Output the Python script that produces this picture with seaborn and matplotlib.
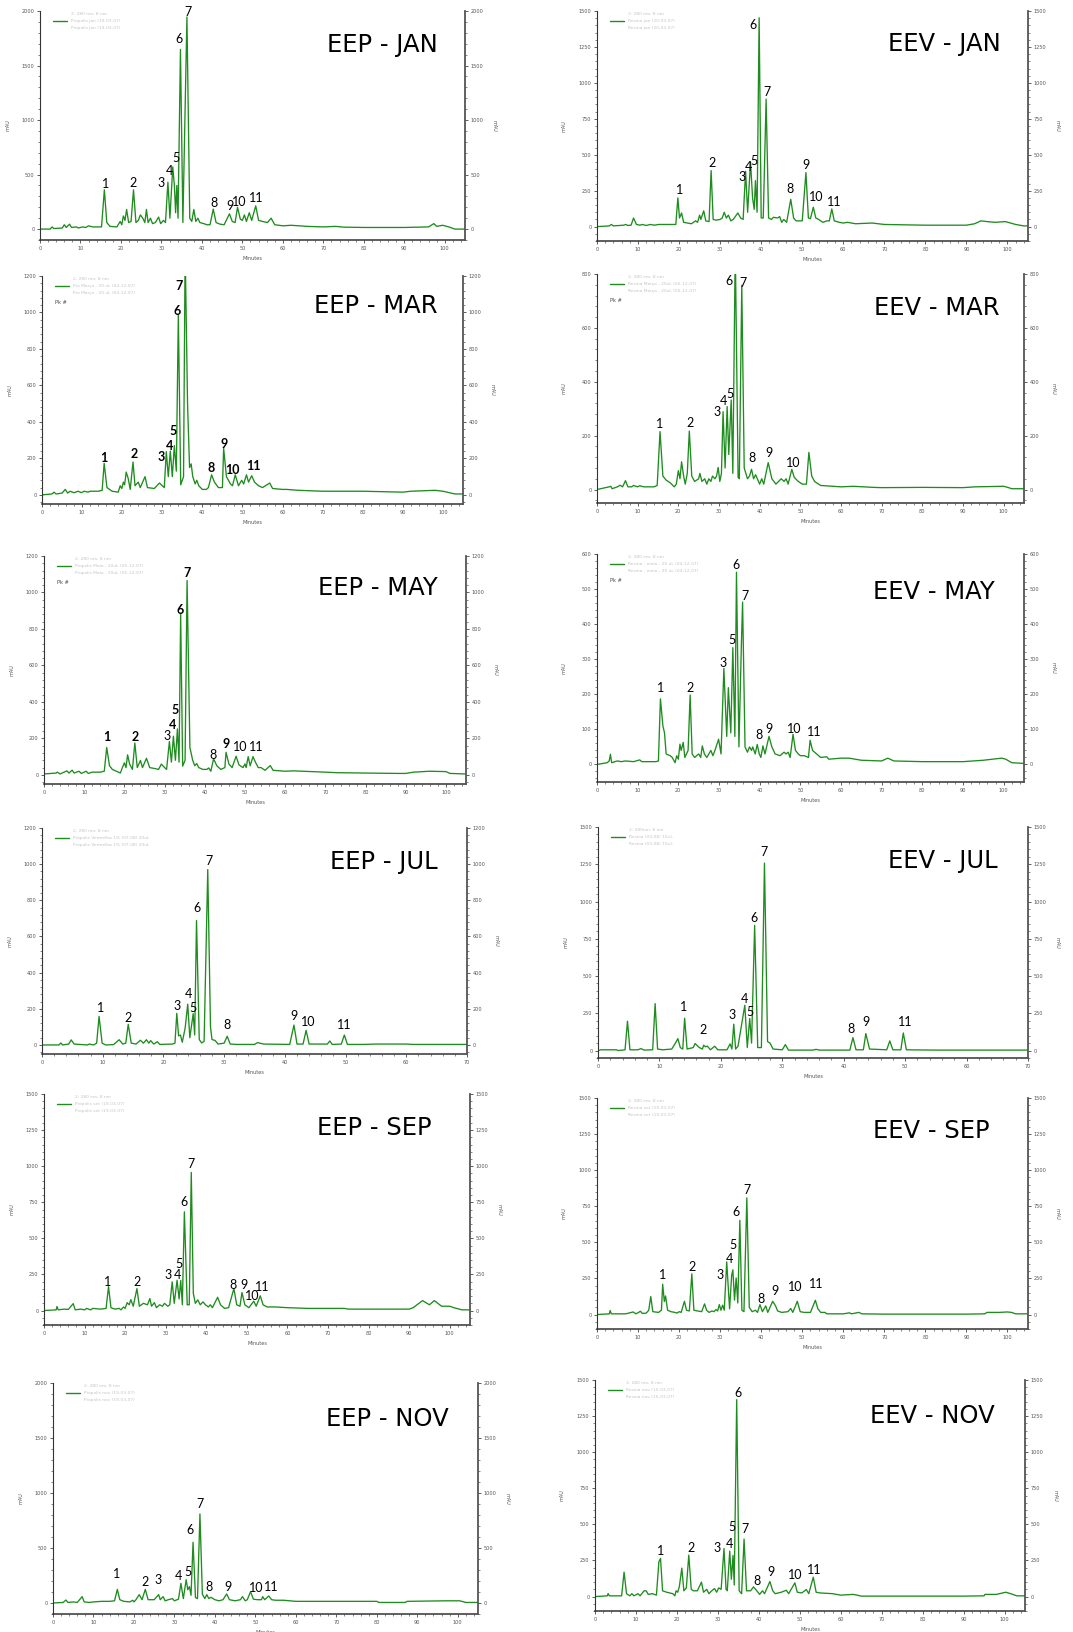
import matplotlib
matplotlib.use("Agg")
import matplotlib.pyplot as plt
import seaborn as sns
import pandas as pd
from matplotlib.lines import Line2D
from matplotlib.ticker import MultipleLocator, AutoMinorLocator

# ---------------- DATA ----------------
trace_eep_jan = [(0,0),(2.5,0),(3,20),(3.4,5),(5.5,10),(6,40),(6.5,15),(7.3,45),(7.8,15),(9,20),(9.5,10),(10.5,20),(11.3,15),(12,30),(13,20),(15.2,20),(15.9,360),(16.5,60),(17.3,25),(19,20),(19.8,70),(20.2,40),(20.6,120),(21,80),(21.4,180),(21.9,60),(22.5,70),(23.1,360),(23.7,60),(24.3,80),(24.8,130),(25.4,100),(25.9,60),(26.3,180),(26.7,60),(27.3,100),(27.8,50),(28.5,60),(29.3,110),(29.8,50),(30.5,80),(31.0,60),(31.6,430),(32.1,100),(32.8,570),(33.2,400),(33.5,150),(33.8,400),(34.1,100),(34.7,1647),(35.3,60),(36.3,1945),(37.0,100),(37.5,70),(38.0,180),(38.5,70),(39.0,100),(39.5,60),(40.5,50),(41.2,40),(42.0,40),(42.8,183),(43.5,60),(44.5,45),(45.5,40),(46.8,140),(47.5,70),(48.2,60),(48.8,200),(49.5,90),(50,80),(50.5,130),(51,70),(51.7,150),(52.3,80),(53.3,213),(54,80),(55,70),(56.2,60),(57.1,100),(58,40),(60,30),(62,35),(66,25),(70,20),(73,25),(75,18),(80,15),(90,15),(96,20),(97.3,50),(98,25),(99.5,35),(101,20),(102.5,0),(105,0)]
trace_eev_jan = [(0,0),(3,5),(3.5,15),(4,5),(6.5,10),(7,15),(7.5,8),(8.3,10),(8.9,60),(9.6,15),(10.5,10),(11,15),(12,8),(13,15),(14,10),(15,15),(17,15),(19.2,15),(19.7,200),(20.1,60),(20.6,95),(21.1,30),(23,20),(24,40),(24.5,30),(25,80),(25.3,50),(26,110),(26.5,40),(27.3,35),(27.8,390),(28.3,50),(29,45),(30,50),(30.5,60),(31,100),(31.5,60),(32,80),(32.6,40),(33.2,50),(34.3,95),(35,60),(35.6,50),(36.2,385),(36.7,100),(37.4,450),(37.9,200),(38.3,120),(38.6,320),(39.0,100),(39.5,1453),(40.0,60),(40.5,60),(41.2,887),(41.8,60),(42.5,50),(43,65),(44,60),(44.5,70),(45,30),(45.5,50),(46.2,30),(47.2,190),(47.9,60),(48.5,40),(50,40),(50.9,376),(51.5,60),(52.0,55),(52.7,135),(53.3,60),(54,50),(55,30),(56,40),(56.6,40),(57.2,123),(57.8,40),(59,30),(60,25),(61,30),(63,20),(67,25),(70,15),(80,10),(90,10),(92,20),(93.5,40),(95,35),(97,30),(99.5,35),(102,15),(104,5),(105,5)]
trace_eep_mar = [(0,0),(2.5,5),(3,15),(3.5,5),(5,10),(5.8,30),(6.4,10),(7,20),(8,12),(9,20),(9.8,12),(10.5,20),(11.5,15),(12,20),(14,20),(15,25),(15.5,173),(16.2,40),(17.5,20),(19,15),(19.5,50),(19.9,35),(20.3,70),(20.6,55),(21,125),(21.5,90),(22,30),(22.7,180),(23.2,50),(24,70),(24.5,40),(25.7,100),(26.3,40),(28,35),(29.3,65),(30,50),(30.5,40),(31.0,237),(31.5,100),(32.0,240),(32.5,100),(33.0,270),(33.5,130),(34.0,985),(34.6,55),(35.3,100),(35.7,1350),(36.3,500),(36.8,150),(37.2,170),(37.6,100),(38.2,60),(38.6,80),(39.1,50),(40,30),(41,30),(41.5,40),(42.3,110),(43,70),(44,40),(45,40),(45.3,255),(46,100),(47,60),(47.5,50),(48.2,110),(49,50),(49.8,80),(50.3,60),(51,110),(51.5,70),(52.3,105),(53,70),(54,50),(55,40),(56.8,65),(57.5,35),(60,30),(61,30),(64,25),(70,20),(80,20),(90,15),(92,20),(98,25),(100,20),(103,5),(105,5)]
trace_eev_mar = [(0,0),(3,10),(3.4,12),(3.7,3),(5,10),(5.7,16),(6.3,10),(7,33),(7.6,10),(8.5,10),(9,15),(10,10),(10.5,14),(11.5,10),(14,10),(14.8,15),(15.5,215),(16.2,50),(17,35),(18,25),(19,10),(19.5,20),(20,70),(20.4,40),(20.8,103),(21.3,50),(21.7,20),(22.2,60),(22.7,217),(23.3,50),(24,30),(25,40),(25.3,60),(25.8,30),(26.5,40),(27,20),(27.5,40),(28,30),(28.4,50),(29,40),(29.4,50),(29.8,82),(30.2,30),(30.6,60),(31.0,289),(31.5,80),(32.0,308),(32.4,130),(33.0,332),(33.4,60),(34.0,900),(34.7,45),(35.0,40),(35.6,758),(36.2,80),(37,40),(37.5,50),(38,75),(38.5,40),(39,55),(40,20),(40.5,40),(41,20),(42.1,100),(43,40),(44,20),(45.3,40),(46,30),(46.5,40),(47,20),(47.9,75),(48.5,45),(49.5,30),(50.5,20),(51.5,20),(52.1,138),(52.8,50),(53.5,30),(55,15),(60,10),(63,12),(68,8),(70,7),(80,8),(90,7),(93,10),(100,12),(101,8),(102,3),(105,3)]
trace_eep_may = [(0,5),(3,10),(3.3,15),(4,5),(5.7,22),(6.2,10),(7,26),(7.5,10),(8.7,20),(9.3,8),(10.5,20),(11,8),(12,15),(14,15),(15,20),(15.6,150),(16.3,50),(17,30),(18,20),(19,10),(19.5,40),(20,66),(20.4,40),(20.8,110),(21.3,60),(22,30),(22.6,175),(23.2,40),(24,79),(24.5,40),(25.5,91),(26.3,40),(27.5,35),(28.5,30),(29.2,59),(30,40),(30.5,30),(31.2,183),(31.7,70),(32.2,212),(32.7,80),(33.2,252),(33.6,70),(34.0,883),(34.5,48),(35.1,80),(35.6,1066),(36.3,150),(37,80),(37.5,50),(38,62),(38.5,40),(39.5,30),(40.5,30),(41,38),(41.5,20),(42.2,88),(43,50),(44,30),(45,40),(45.3,124),(46,60),(46.8,40),(47.8,102),(48.5,55),(49.5,40),(50,60),(50.3,40),(50.8,100),(51.3,50),(52,100),(52.6,70),(53.3,40),(54,40),(55,25),(56.3,51),(57,25),(60,20),(62,22),(70,15),(73,12),(80,10),(88,8),(90,8),(92,15),(96,20),(100,18),(101,8),(105,5)]
trace_eev_may = [(0,0),(2.5,5),(3,10),(3.3,29),(3.6,5),(5,10),(6,8),(7,10),(9,8),(10.5,13),(11,8),(13,8),(14.5,8),(15.1,10),(15.6,187),(16.2,110),(16.6,90),(17,30),(18,25),(18.5,20),(19.2,5),(19.6,25),(20,15),(20.4,58),(20.7,40),(21.2,63),(21.6,20),(22,30),(22.4,40),(22.9,198),(23.4,30),(24,20),(25,30),(25.5,20),(25.9,53),(26.4,30),(27,20),(27.5,30),(28,40),(28.5,25),(29,40),(29.9,72),(30.5,30),(31.2,274),(31.9,80),(32.3,219),(32.9,90),(33.4,333),(33.9,80),(34.3,548),(34.9,50),(35.5,340),(35.8,463),(36.4,50),(37,35),(37.5,50),(38,40),(38.3,50),(38.9,30),(39.4,57),(39.9,30),(40.3,20),(40.8,53),(41.3,30),(42.3,80),(43,50),(43.8,30),(45,25),(46,35),(46.5,30),(47,35),(47.5,20),(48.2,86),(48.8,40),(49.5,30),(50,25),(51,25),(52,20),(52.4,69),(53,40),(54,30),(55,20),(56.5,22),(57,15),(60,18),(62,18),(65,12),(70,10),(71.5,18),(73,10),(80,8),(90,8),(95,12),(99.5,18),(100.5,15),(102,5),(105,3)]
trace_eep_jul = [(0,0),(2.8,0),(3.1,11),(3.4,0),(4.4,5),(4.8,28),(5.3,5),(7.5,0),(7.8,5),(8.5,0),(9.0,10),(9.4,158),(9.9,10),(10.5,0),(11.8,2),(12.7,29),(13.3,5),(13.8,10),(14.2,114),(14.7,10),(15.5,5),(16.2,26),(16.7,10),(17.2,29),(17.6,10),(17.9,24),(18.4,5),(19.0,18),(19.4,3),(21.5,5),(21.9,10),(22.2,175),(22.5,50),(22.8,55),(23.1,15),(23.5,80),(23.6,100),(24.0,226),(24.35,40),(24.9,173),(25.15,55),(25.45,688),(25.9,30),(26.3,11),(26.7,20),(27.3,970),(27.75,100),(28.0,30),(28.5,25),(29.0,5),(30.0,10),(30.5,48),(31.0,5),(32,3),(35.0,3),(35.5,13),(36.5,5),(40.8,3),(41.5,110),(42.0,5),(43.0,5),(43.5,81),(44.0,5),(47.0,5),(47.4,22),(47.8,3),(49.3,5),(49.8,55),(50.3,3),(53,3),(55,5),(60,5),(61,3),(70,3)]
trace_eev_jul = [(0,0),(0.5,5),(3,5),(3.3,0),(4.4,5),(4.8,197),(5.2,5),(6.5,5),(7,13),(7.5,3),(8.9,5),(9.3,315),(9.7,10),(10.5,5),(12,10),(12.6,50),(13,80),(13.4,20),(13.8,10),(14.1,217),(14.5,10),(15.5,20),(15.8,47),(16.5,20),(17,10),(17.2,36),(17.5,25),(17.8,30),(18.3,5),(19,29),(19.5,5),(21,5),(21.5,45),(21.8,10),(22.1,177),(22.4,10),(22.8,30),(23.4,180),(23.9,304),(24.3,20),(24.7,215),(25.0,50),(25.5,840),(26.0,20),(26.6,20),(27.1,1258),(27.6,60),(28,50),(28.5,10),(30,5),(30.5,40),(31,3),(35,3),(35.5,8),(36,3),(41,3),(41.5,87),(42,5),(43.2,5),(43.6,114),(44.2,10),(47,5),(47.5,65),(48,5),(49.3,5),(49.7,118),(50.2,5),(55,3),(70,3)]
trace_eep_sep = [(0,0),(3,5),(3.2,28),(3.5,5),(5,10),(6,8),(7.2,48),(7.7,5),(9,10),(10,5),(10.5,15),(11.5,5),(12,15),(14,10),(15.3,15),(15.9,166),(16.5,20),(17.5,10),(18.5,15),(19,5),(19.6,25),(20,15),(20.5,55),(21,40),(21.4,76),(22,30),(22.9,152),(23.5,30),(24.5,50),(25.5,40),(26.1,83),(26.5,30),(27.2,55),(27.7,20),(28.5,40),(29.2,30),(29.7,50),(30.5,30),(31.0,40),(31.6,199),(32.1,50),(32.8,210),(33.3,80),(33.7,208),(34.1,40),(34.6,684),(35.3,40),(35.8,40),(36.3,957),(36.8,120),(37.3,50),(37.9,74),(38.5,40),(39.2,60),(39.8,40),(40.5,25),(41,40),(41.5,20),(42.8,92),(43.5,40),(44.5,15),(45.5,20),(46.8,152),(47.5,40),(48.3,30),(48.8,125),(49.5,40),(50.5,20),(51.7,65),(52.3,30),(53.3,102),(54,40),(55,25),(57,25),(60,20),(65,15),(70,15),(74,15),(75,10),(80,10),(90,10),(91,20),(93.3,69),(95,40),(96.2,69),(98,30),(100,30),(101,20),(103,5),(105,5)]
trace_eev_sep = [(0,0),(3,5),(3.2,28),(3.5,5),(5,5),(7,5),(8.8,18),(9.5,5),(10.6,23),(11,8),(12,10),(12.6,30),(13.1,125),(13.6,20),(15,15),(15.7,30),(16.0,210),(16.4,90),(16.7,129),(17.2,30),(18,20),(19,15),(19.5,10),(20,20),(20.5,15),(21.3,92),(21.8,30),(22.5,25),(23.1,282),(23.6,30),(24.5,25),(25.5,20),(26.2,74),(26.7,30),(27.3,15),(28,25),(28.5,20),(29,35),(29.4,25),(29.8,69),(30.2,30),(30.6,65),(31,30),(31.6,365),(32.3,40),(32.8,270),(33.1,310),(33.5,100),(33.9,254),(34.3,80),(34.8,653),(35.3,30),(35.8,20),(36.5,808),(37.1,50),(37.8,20),(38.6,30),(39.1,15),(39.7,69),(40.3,20),(41.1,60),(41.6,15),(42.8,92),(43.5,60),(44,25),(45,15),(46.5,20),(47.2,42),(47.7,15),(48.8,92),(49.5,20),(50.5,15),(52,15),(53.2,99),(53.8,40),(54.5,15),(55.5,15),(56,5),(60,5),(61.5,12),(62,5),(63.8,15),(64.5,5),(70,3),(80,3),(90,3),(94.5,5),(95,15),(98,15),(100,18),(101,15),(102,5),(105,5)]
trace_eep_nov = [(0,0),(2.5,5),(3.2,27),(3.7,5),(5,10),(6,5),(7.2,58),(7.7,10),(9,5),(10,10),(12,15),(14,15),(15.2,20),(15.9,124),(16.5,30),(17.5,15),(19,10),(19.7,25),(20,10),(20.5,30),(21.3,76),(22,30),(22.8,124),(23.5,30),(25,30),(26.1,76),(26.5,30),(27.2,58),(27.7,20),(28.5,30),(29.5,40),(30,20),(31,35),(31.6,179),(32.2,40),(32.9,212),(33.3,120),(33.7,149),(34.1,70),(34.6,552),(35.2,50),(35.7,40),(36.3,810),(36.9,80),(37.5,40),(38,76),(38.5,40),(39,52),(40,30),(41,20),(42,30),(42.9,82),(43.6,30),(45,20),(46.3,30),(46.8,58),(47.5,20),(48,30),(48.8,103),(49.5,35),(50.5,30),(51.5,30),(51.8,58),(52.3,30),(53.3,64),(54,30),(55,25),(57,25),(60,15),(65,15),(70,15),(80,15),(80.5,5),(87,5),(87.5,15),(97,20),(100.5,20),(102,5),(105,5)]
trace_eev_nov = [(0,0),(3,5),(3.2,21),(3.5,5),(6.5,5),(7.1,169),(7.7,20),(8.5,5),(9,20),(9.5,5),(10.5,20),(11,5),(12,40),(12.5,40),(13,15),(14,20),(15,10),(15.6,241),(16,264),(16.5,40),(17.5,30),(19,20),(19.5,5),(19.8,40),(20.2,30),(20.6,70),(21.2,197),(21.7,40),(22.3,60),(22.9,287),(23.5,50),(24,40),(25,40),(26,100),(26.5,30),(27.3,50),(27.8,20),(28.5,40),(29.2,55),(29.7,30),(30.2,60),(30.8,50),(31.5,333),(32,50),(32.3,40),(32.9,315),(33.3,120),(33.7,285),(34.0,80),(34.6,1364),(35.2,40),(35.8,20),(36.4,398),(37,40),(38,40),(38.7,67),(39.5,40),(40.2,15),(40.9,40),(41.4,20),(42.7,104),(43.4,40),(44,20),(45.5,30),(46.7,44),(47.3,20),(48.8,95),(49.4,30),(50.5,25),(51.6,49),(52.2,20),(53.3,134),(54,30),(55,25),(58,20),(60,10),(63,15),(64,10),(65,3),(70,3),(80,3),(90,3),(95,5),(95.2,15),(98,15),(100.3,30),(101.5,20),(103,5),(105,5)]

# peak labels: (number, minutes, mAU at label baseline)
peaks_eep_jan = [(1,16.1,375),(2,23.1,390),(3,29.8,390),(4,32.1,497),(5,33.7,619),(6,34.4,1710),(7,36.5,1951),(8,42.9,207),(9,46.9,171),(10,49.1,216),(11,53.5,247)]
peaks_eev_jan = [(1,20.0,228),(2,28.0,413),(3,35.4,320),(4,36.8,390),(5,38.3,430),(6,38.0,1377),(7,41.5,912),(8,47.0,232),(9,51.0,402),(10,53.4,176),(11,57.8,142)]
peaks_eep_mar = [(1,15.3,182),(2,22.9,204),(3,29.7,186),(4,31.8,246),(5,32.8,328),(6,33.8,985),(7,34.2,1122),(8,42.2,128),(9,45.5,259),(10,47.6,115),(11,52.8,137)]
peaks_eev_mar = [(1,15.4,227),(2,22.9,231),(3,29.6,273),(4,31.1,314),(5,32.7,339),(6,32.4,758),(7,35.8,753),(8,38.2,103),(9,42.4,120),(10,48.2,84)]
peaks_eep_may = [(1,15.7,185),(2,22.8,185),(3,30.6,192),(4,32.0,252),(5,32.7,335),(6,33.9,883),(7,35.7,1085),(8,42.0,88),(9,45.4,146),(10,48.7,130),(11,52.7,130)]
peaks_eev_may = [(1,15.6,206),(2,22.8,208),(3,30.9,279),(5,33.1,344),(6,34.3,558),(7,36.3,469),(8,39.8,74),(9,42.4,91),(10,48.6,91),(11,53.3,82)]
peaks_eep_jul = [(1,9.6,180),(2,14.2,129),(3,22.2,193),(4,24.1,258),(5,24.8,184),(6,25.6,736),(7,27.5,994),(8,30.4,86),(9,41.5,136),(10,43.8,105),(11,49.8,88)]
peaks_eev_jul = [(1,14.0,268),(2,17.1,114),(3,21.8,215),(4,23.9,320),(5,24.8,232),(6,25.4,863),(7,27.1,1305),(8,41.2,121),(9,43.6,163),(11,50.0,163)]
peaks_eep_sep = [(1,15.7,171),(2,23.0,171),(3,30.7,222),(4,32.8,217),(5,33.2,298),(6,34.4,726),(7,36.3,984),(8,46.5,148),(9,49.3,148),(10,51.3,76),(11,53.8,136)]
peaks_eev_sep = [(1,16.1,249),(2,23.2,300),(3,29.9,249),(4,32.2,360),(5,33.1,452),(6,33.9,683),(7,36.5,838),(8,40.0,83),(9,43.4,134),(10,48.4,162),(11,53.3,187)]
peaks_eep_nov = [(1,15.7,228),(2,22.8,158),(3,26.0,173),(4,31.1,212),(5,33.4,243),(6,33.8,628),(7,36.2,862),(8,38.6,106),(9,43.2,106),(10,50.1,97),(11,53.8,106)]
peaks_eev_nov = [(1,16.1,287),(2,23.4,310),(3,29.9,310),(4,32.8,333),(5,33.5,454),(6,35.0,1382),(7,36.6,437),(8,39.6,83),(9,43.0,141),(10,48.8,120),(11,53.5,155)]

titles = ["EEP - JAN", "EEV - JAN", "EEP - MAR", "EEV - MAR", "EEP - MAY", "EEV - MAY",
          "EEP - JUL", "EEV - JUL", "EEP - SEP", "EEV - SEP", "EEP - NOV", "EEV - NOV"]
channel_labels = ["2: 280 nm, 8 nm"] * 7 + ["2: 280nm, 8 nm"] + ["2: 280 nm, 8 nm"] * 4
sample_names = ["Própolis jan (19-03-07)", "Resina jan (20-03-07)",
                "Pro Março - 20 uL (04-12-07)", "Resina Março - 20uL (05-12-07)",
                "Propolis Maio - 20uL (05-12-07)", "Resina - maio - 20 uL (04-12-07)",
                "Própolis Vermelha 1% (07-08) 20uL", "Resina (03-08) 15uL",
                "Própolis set (19-03-07)", "Resina set (19-03-07)",
                "Própolis nov (19-03-07)", "Resina nov (15-03-07)"]
y_max = [2000, 1500, 1200, 800, 1200, 600, 1200, 1500, 1500, 1500, 2000, 1500]
y_min = [-100, -100, -50, -50, -50, -50, -50, -50, -100, -100, -100, -100]
y_step = [500, 250, 200, 200, 200, 100, 200, 250, 250, 250, 500, 250]
x_max = [105, 105, 105, 105, 105, 105, 70, 70, 105, 105, 105, 105]
traces = [trace_eep_jan, trace_eev_jan, trace_eep_mar, trace_eev_mar, trace_eep_may, trace_eev_may,
          trace_eep_jul, trace_eev_jul, trace_eep_sep, trace_eev_sep, trace_eep_nov, trace_eev_nov]
peaks = [peaks_eep_jan, peaks_eev_jan, peaks_eep_mar, peaks_eev_mar, peaks_eep_may, peaks_eev_may,
         peaks_eep_jul, peaks_eev_jul, peaks_eep_sep, peaks_eev_sep, peaks_eep_nov, peaks_eev_nov]
bold_peaks = [set(), set(), set(range(1, 12)), set(), {1, 2, 4, 5, 6, 7, 9}, set(),
              set(), set(), set(), set(), set(), set()]
show_pk = [False, False, True, True, True, True, False, False, False, False, False, False]

# ---------------- LAYOUT (pixels in the 1073x1632 canvas) ----------------
W, H = 1073, 1632
boxes = [(40, 11, 465, 240), (597, 11, 1028, 241),
         (42, 276, 463, 504), (597, 274, 1024, 503),
         (44, 556, 466, 784), (597, 554, 1024, 782),
         (42, 828, 467, 1054), (598, 827, 1028, 1058),
         (44, 1094, 470, 1325), (597, 1098, 1028, 1329),
         (53, 1383, 478, 1614), (595, 1380, 1025, 1611)]
title_pos = [(327, 52), (888, 51), (314, 313), (874, 315), (318, 595), (873, 599),
             (330, 869), (888, 868), (317, 1135), (873, 1138), (326, 1426), (870, 1423)]

GREEN = "#1e8c1e"
sns.set_style("ticks")
plt.rcParams["font.family"] = ["DejaVu Sans"]

fig = plt.figure(figsize=(W / 100, H / 100), dpi=100)
fig.patch.set_facecolor("white")


def fx(x):
    return x / W


def fy(y):
    return 1 - y / H


for i in range(12):
    l, t, r, b = boxes[i]
    ax = fig.add_axes([fx(l), fy(b), (r - l) / W, (b - t) / H])
    ax.set_facecolor("white")
    df = pd.DataFrame(traces[i], columns=["Minutes", "mAU"])
    sns.lineplot(data=df, x="Minutes", y="mAU", ax=ax, color=GREEN, lw=0.95,
                 estimator=None, sort=False)
    ax.set_xlim(0, x_max[i])
    ax.set_ylim(y_min[i], y_max[i])
    ax.xaxis.set_major_locator(MultipleLocator(10))
    ax.xaxis.set_minor_locator(AutoMinorLocator(5))
    ax.yaxis.set_major_locator(MultipleLocator(y_step[i]))
    ax.yaxis.set_minor_locator(AutoMinorLocator(5))
    for s in ["top", "right"]:
        ax.spines[s].set_visible(False)
    ax.spines["left"].set_color("#333333")
    ax.spines["left"].set_linewidth(0.8)
    ax.spines["bottom"].set_color("#333333")
    ax.spines["bottom"].set_linewidth(1.1)
    ax.tick_params(which="major", direction="out", length=2.5, width=0.6, color="#444444",
                   labelsize=3.6, labelcolor="#555555", pad=1.5)
    ax.tick_params(which="minor", direction="out", length=1.4, width=0.5, color="#555555")
    ax.set_xlabel("Minutes", fontsize=3.6, color="#555555")
    ax.set_ylabel("mAU", fontsize=3.6, color="#555555")
    aw = r - l
    ah = b - t
    ax.xaxis.set_label_coords(0.5, -16 / ah)
    ax.yaxis.set_label_coords(-30 / aw, 0.5)

    ax2 = ax.twinx()
    ax2.set_ylim(y_min[i], y_max[i])
    ax2.yaxis.set_major_locator(MultipleLocator(y_step[i]))
    ax2.yaxis.set_minor_locator(AutoMinorLocator(5))
    for s in ["top", "left", "bottom"]:
        ax2.spines[s].set_visible(False)
    ax2.spines["right"].set_color("#555555")
    ax2.spines["right"].set_linewidth(1.3)
    ax2.tick_params(which="major", direction="out", length=2.5, width=0.6, color="#444444",
                    labelsize=3.6, labelcolor="#555555", pad=1.5)
    ax2.tick_params(which="minor", direction="out", length=1.4, width=0.5, color="#555555")
    ax2.set_ylabel("mAU", fontsize=3.6, color="#555555", rotation=270)
    ax2.yaxis.set_label_coords(1 + 32 / aw, 0.5)

    # peak numbers
    for n, pt, pv in peaks[i]:
        ax.text(pt, pv, str(n), ha="center", va="baseline", fontsize=9,
                family=["Lato", "DejaVu Sans"],
                fontweight="bold" if n in bold_peaks[i] else "normal", color="black")

    # legend block
    fig.add_artist(Line2D([fx(l + 13), fx(l + 27)], [fy(t + 10), fy(t + 10)],
                          transform=fig.transFigure, color=GREEN, lw=1.0))
    fig.text(fx(l + 31), fy(t + 3), channel_labels[i], fontsize=3.2, color="#c4c4c4",
             va="center", ha="left")
    fig.text(fx(l + 31), fy(t + 10), sample_names[i], fontsize=3.2, color="#c4c4c4",
             va="center", ha="left")
    fig.text(fx(l + 31), fy(t + 17), sample_names[i], fontsize=3.2, color="#c4c4c4",
             va="center", ha="left")
    if show_pk[i]:
        fig.text(fx(l + 13), fy(t + 27), "Pk #", fontsize=3.6, color="#444444",
                 va="center", ha="left")

    # panel title
    tx, ty = title_pos[i]
    fig.text(fx(tx), fy(ty), titles[i], fontsize=17.5, color="black",
             ha="left", va="baseline")

fig.savefig("out.png", dpi=100, facecolor="white")
